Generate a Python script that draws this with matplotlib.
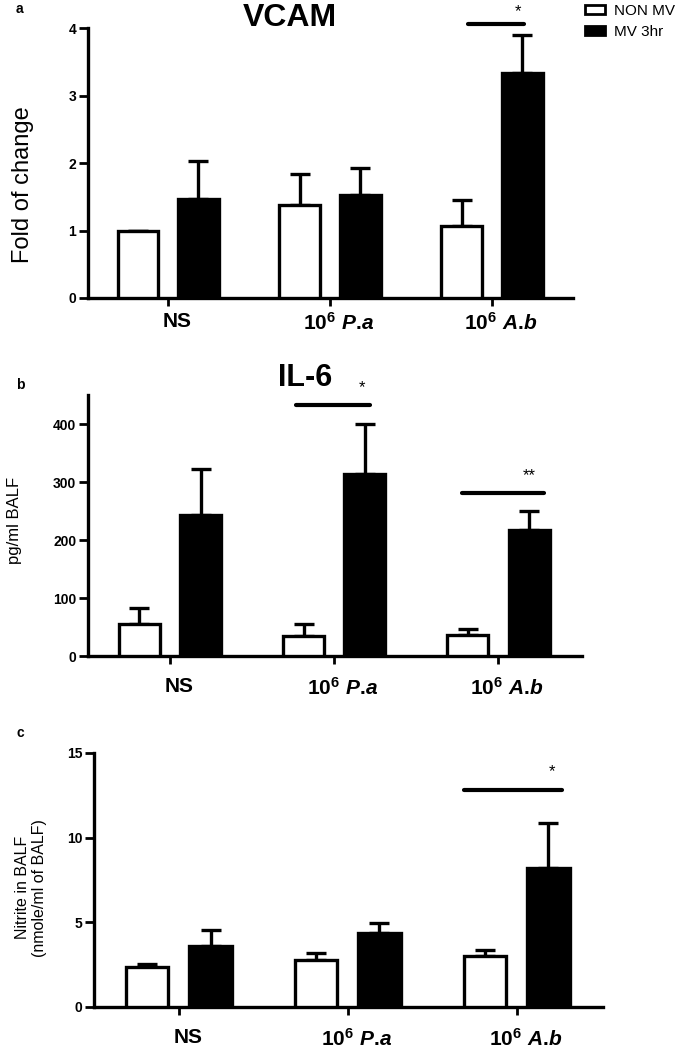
import numpy as np
import matplotlib
matplotlib.use("Agg")
import matplotlib.pyplot as plt
import matplotlib.transforms as mtransforms
from matplotlib.patches import Patch

plt.rcParams['font.family'] = ['Liberation Sans', 'DejaVu Sans']
plt.rcParams['mathtext.fontset'] = 'custom'
plt.rcParams['mathtext.rm'] = 'Liberation Sans:bold'
plt.rcParams['mathtext.bf'] = 'Liberation Sans:bold'
plt.rcParams['mathtext.it'] = 'Liberation Sans:italic:bold'

groups = ['NS', r'$10^{6}\ \mathit{P.\!a}$', r'$10^{6}\ \mathit{A.\!b}$']
series = ['NON MV', 'MV 3hr']

# panel a - VCAM fold of change
vcam_non = [1.0, 1.38, 1.07]
vcam_non_err = [0.0, 0.46, 0.38]
vcam_mv = [1.47, 1.53, 3.33]
vcam_mv_err = [0.56, 0.40, 0.56]

# panel b - IL-6 pg/ml
il6_non = [55, 35, 37]
il6_non_err = [28, 20, 10]
il6_mv = [243, 313, 218]
il6_mv_err = [79, 87, 32]

# panel c - nitrite
nit_non = [2.33, 2.78, 2.98]
nit_non_err = [0.20, 0.40, 0.39]
nit_mv = [3.57, 4.39, 8.18]
nit_mv_err = [0.98, 0.55, 2.68]

narrow = ['Liberation Sans Narrow', 'Liberation Sans']
LW = 2.4


def draw_panel(ax, non, non_err, mv, mv_err, xlim, ylim, yticks, ylabel, ylabel_size, xpad):
    x = np.arange(len(groups))
    off, w = 0.187, 0.25
    ax.bar(x - off, non, w, color='white', edgecolor='black', linewidth=LW, zorder=3)
    ax.bar(x + off, mv, w, color='black', edgecolor='black', linewidth=LW, zorder=3)
    z = np.zeros(len(x))
    ax.errorbar(x - off, non, yerr=[z, non_err], fmt='none', ecolor='black',
                elinewidth=LW, capsize=7, capthick=LW, zorder=2)
    ax.errorbar(x + off, mv, yerr=[z, mv_err], fmt='none', ecolor='black',
                elinewidth=LW, capsize=7, capthick=LW, zorder=2)
    ax.set_xlim(*xlim)
    ax.set_ylim(*ylim)
    ax.set_yticks(yticks)
    ax.set_xticks(x)
    ax.set_xticklabels(groups)
    for s in ['top', 'right']:
        ax.spines[s].set_visible(False)
    for s in ['left', 'bottom']:
        ax.spines[s].set_linewidth(LW)
    ax.tick_params(axis='y', length=6.5, width=2, labelsize=10, pad=2)
    ax.tick_params(axis='x', length=6, width=2, labelsize=15, pad=xpad)
    shift = mtransforms.ScaledTranslation(0.09, 0, ax.figure.dpi_scale_trans)
    for t in ax.get_yticklabels():
        t.set_fontweight('bold')
    for t in ax.get_xticklabels():
        t.set_fontweight('bold')
        t.set_transform(t.get_transform() + shift)
    ax.set_ylabel(ylabel, fontsize=ylabel_size)


def sig(ax, x0, x1, y, txt, tx, ty):
    ax.plot([x0, x1], [y, y], color='black', lw=3, clip_on=False, solid_capstyle='round')
    ax.text(tx, ty, txt, ha='center', va='center', fontsize=12)


fig = plt.figure(figsize=(6.85, 10.5), dpi=100)

ax1 = fig.add_axes([0.1285, 0.7162, 0.708, 0.2571])
draw_panel(ax1, vcam_non, vcam_non_err, vcam_mv, vcam_mv_err, (-0.494, 2.5), (0, 4),
           [0, 1, 2, 3, 4], 'Fold of change', 17, 4)
ax1.yaxis.set_label_coords(-0.111, 0.42)
sig(ax1, 1.85, 2.20, 4.06, '*', 2.16, 4.24)
fig.text(0.423, 0.983, 'VCAM', ha='center', va='center',
         fontsize=23, family=narrow, fontweight='bold')
fig.text(0.029, 0.991, 'a', fontsize=10, fontweight='bold', va='center', ha='center')
handles = [Patch(facecolor='white', edgecolor='black', linewidth=2),
           Patch(facecolor='black', edgecolor='black', linewidth=2)]
fig.legend(handles, series, loc='upper right', bbox_to_anchor=(1.005, 1.009), frameon=False,
           prop={'family': narrow, 'size': 11}, handlelength=1.3, handleheight=0.55,
           handletextpad=0.6, labelspacing=0.45)

ax2 = fig.add_axes([0.1285, 0.3752, 0.7212, 0.2486])
draw_panel(ax2, il6_non, il6_non_err, il6_mv, il6_mv_err, (-0.5, 2.51), (0, 450),
           [0, 100, 200, 300, 400], 'pg/ml BALF', 12, 9)
ax2.yaxis.set_label_coords(-0.134, 0.52)
sig(ax2, 0.77, 1.22, 433, '*', 1.17, 462)
sig(ax2, 1.78, 2.28, 281, '**', 2.19, 311)
fig.text(0.445, 0.64, 'IL-6', ha='center', va='center',
         fontsize=22, family=narrow, fontweight='bold')
fig.text(0.029, 0.633, 'b', fontsize=10, fontweight='bold', va='center', ha='center')

ax3 = fig.add_axes([0.1372, 0.0410, 0.7431, 0.2419])
draw_panel(ax3, nit_non, nit_non_err, nit_mv, nit_mv_err, (-0.503, 2.51), (0, 15),
           [0, 5, 10, 15], 'Nitrite in BALF\n(nmole/ml of BALF)', 11.5, 9)
ax3.yaxis.set_label_coords(-0.092, 0.47)
sig(ax3, 1.69, 2.27, 12.84, '*', 2.21, 13.9)
fig.text(0.029, 0.302, 'c', fontsize=10, fontweight='bold', va='center', ha='center')

fig.savefig('out.png', dpi=100)
